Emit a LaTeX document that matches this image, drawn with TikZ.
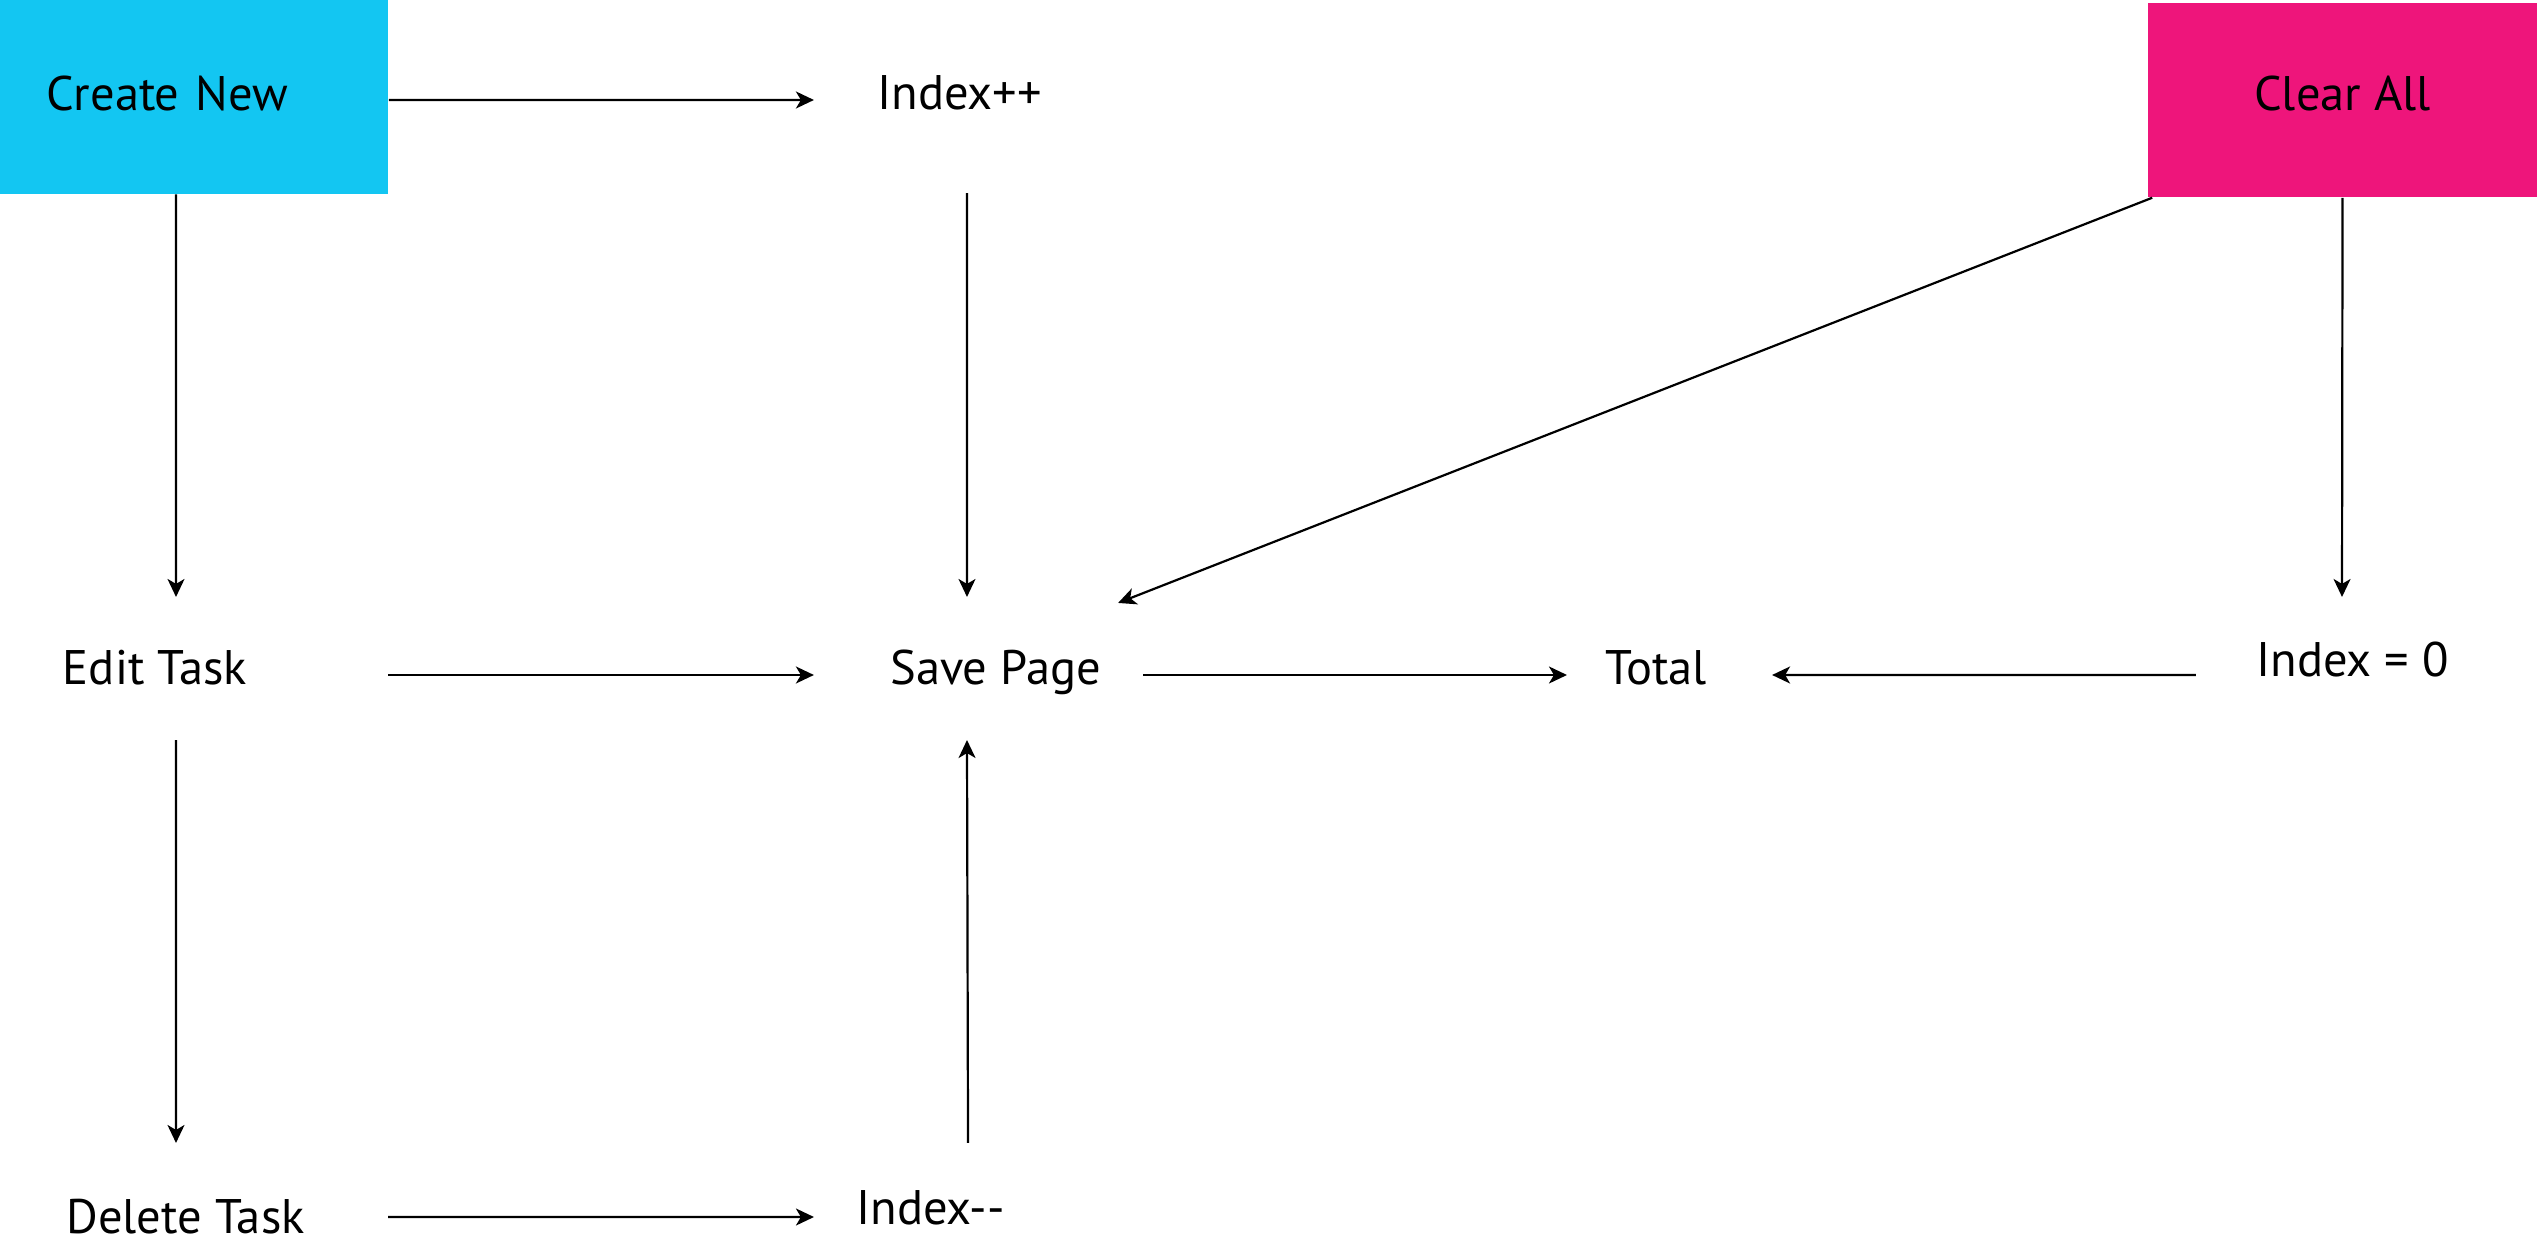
\documentclass[tikz,border=0pt]{standalone}
\usepackage{fontspec}
\setmainfont{PT Sans}
\usetikzlibrary{arrows.meta}
\definecolor{newcyan}{RGB}{19,198,242}
\definecolor{clearpink}{RGB}{238,21,123}
\begin{document}
\begin{tikzpicture}[x=0.01cm,y=-0.01cm,
  lbl/.style={anchor=base, inner sep=0pt, font=\fontsize{13.8}{16}\selectfont},
  actbox/.style={draw=none, inner sep=0pt, minimum height=1.94cm, text height=0.34cm,
    font=\fontsize{13.8}{16}\selectfont},
  flow/.style={-{Stealth[length=0.18cm,width=0.17cm,inset=0.05cm]}, line width=0.022cm}
]
\useasboundingbox (0,0) rectangle (2537,1246);

% action boxes
\node[actbox, fill=newcyan, text depth=0.07cm, minimum width=3.88cm, text width=2.94cm,
  inner xsep=0.47cm, align=left] (cn) at (194,96.5) {Create New};
\node[actbox, fill=clearpink, text depth=0.14cm, minimum width=3.89cm] (ca) at (2342.5,100) {Clear All};

% states
\node[lbl] (ipp) at (959.5,110)  {Index++};
\node[lbl] (et)  at (155,684)    {Edit Task};
\node[lbl] (sp)  at (995.5,684)  {Save Page};
\node[lbl] (tot) at (1656,684)   {Total};
\node[lbl] (iz)  at (2352.5,676) {Index = 0};
\node[lbl] (dt)  at (185.5,1233) {Delete Task};
\node[lbl] (imm) at (930.5,1224) {Index-{}-};

% connectors
\draw[flow] ([yshift=-0.035cm]cn.east) -- ([xshift=-1.455cm,yshift=0.10cm]ipp.base);
\draw[flow] ([xshift=-0.18cm]cn.south) -- ([xshift=0.21cm,yshift=0.87cm]et.base);
\draw[flow] ([xshift=0.075cm,yshift=-0.83cm]ipp.base) -- ([xshift=-0.285cm,yshift=0.87cm]sp.base);
\draw[flow] ([xshift=0.05cm]ca.south west) -- ([xshift=1.225cm,yshift=0.81cm]sp.base);
\draw[flow] (ca.south) -- ([xshift=-0.105cm,yshift=0.79cm]iz.base);
\draw[flow] ([xshift=2.33cm,yshift=0.09cm]et.base) -- ([xshift=-1.815cm,yshift=0.09cm]sp.base);
\draw[flow] ([xshift=1.475cm,yshift=0.09cm]sp.base) -- ([xshift=-0.89cm,yshift=0.09cm]tot.base);
\draw[flow] ([xshift=-1.565cm,yshift=0.01cm]iz.base) -- ([xshift=1.16cm,yshift=0.09cm]tot.base);
\draw[flow] ([xshift=0.21cm,yshift=-0.56cm]et.base) -- ([xshift=-0.095cm,yshift=0.90cm]dt.base);
\draw[flow] ([xshift=0.375cm,yshift=0.81cm]imm.base) -- ([xshift=-0.285cm,yshift=-0.56cm]sp.base);
\draw[flow] ([xshift=2.025cm,yshift=0.16cm]dt.base) -- ([xshift=-1.165cm,yshift=0.07cm]imm.base);
\end{tikzpicture}
\end{document}
